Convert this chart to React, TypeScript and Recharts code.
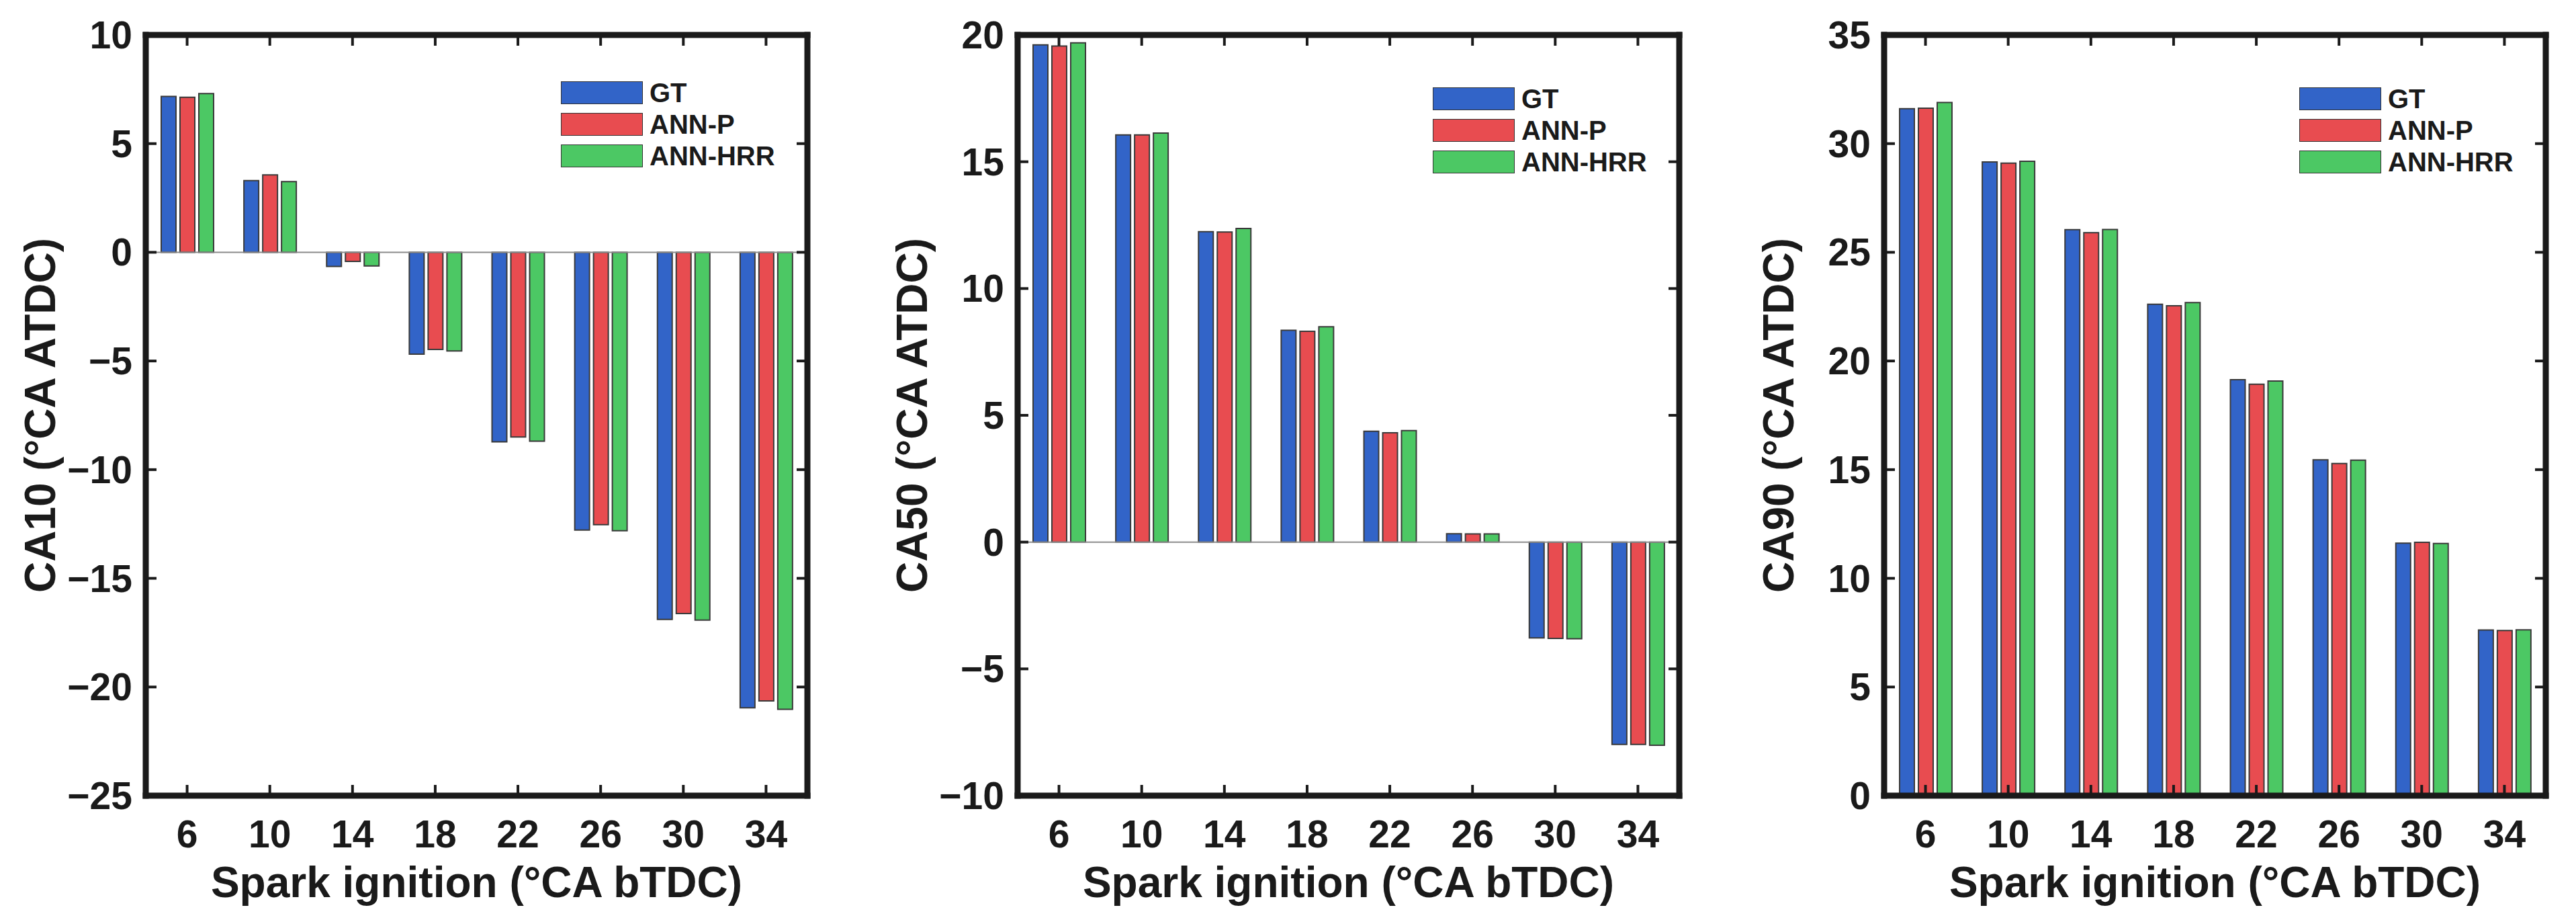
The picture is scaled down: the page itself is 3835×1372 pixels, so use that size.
import React from 'react'
import { BarChart, Bar, XAxis, YAxis, Legend, ReferenceLine } from 'recharts'

// spark ignition timing (°CA bTDC)
const sparkIgnition = ['6', '10', '14', '18', '22', '26', '30', '34']
const seriesNames = ['GT', 'ANN-P', 'ANN-HRR']

const ca10GT = [7.17, 3.3, -0.65, -4.69, -8.72, -12.78, -16.89, -20.96]
const ca10P = [7.13, 3.56, -0.42, -4.47, -8.5, -12.53, -16.62, -20.64]
const ca10HRR = [7.3, 3.25, -0.63, -4.54, -8.69, -12.81, -16.92, -21.03]

const ca50GT = [19.61, 16.06, 12.24, 8.35, 4.37, 0.33, -3.78, -7.98]
const ca50P = [19.56, 16.06, 12.23, 8.31, 4.31, 0.32, -3.8, -7.98]
const ca50HRR = [19.69, 16.13, 12.37, 8.49, 4.4, 0.32, -3.81, -8.01]

const ca90GT = [31.61, 29.16, 26.04, 22.61, 19.14, 15.45, 11.62, 7.62]
const ca90P = [31.63, 29.1, 25.9, 22.54, 18.93, 15.28, 11.66, 7.6]
const ca90HRR = [31.89, 29.19, 26.05, 22.69, 19.08, 15.44, 11.6, 7.63]

const ca10Ticks = [-25, -20, -15, -10, -5, 0, 5, 10]
const ca50Ticks = [-10, -5, 0, 5, 10, 15, 20]
const ca90Ticks = [0, 5, 10, 15, 20, 25, 30, 35]

const FONT = '"Liberation Sans", Arial, Helvetica, sans-serif'
const INK = '#1a1a1a'
const COLORS = ['#3264C8', '#E84C50', '#4CC864']

// layout of one panel
const CW = 1240
const CH = 1372
const PL = 217
const PT = 52
const PW = 985
const PH = 1132
const PR = PL + PW
const PB = PT + PH

const frame = { stroke: INK, strokeWidth: 9, strokeLinecap: 'square' as const }

function XTick({ x, payload }: any) {
  return (
    <g>
      <line x1={x} x2={x} y1={PB} y2={PB - 16} stroke={INK} strokeWidth={4} />
      <line x1={x} x2={x} y1={PT} y2={PT + 16} stroke={INK} strokeWidth={4} />
      <text x={x} y={PB + 77} textAnchor="middle" fontSize={57} fontWeight="bold" fill={INK} fontFamily={FONT}>
        {payload.value}
      </text>
    </g>
  )
}

function YTick({ y, payload }: any) {
  const label = String(payload.value).replace('-', '\u2212')
  return (
    <g>
      <line x1={PL} x2={PL + 16} y1={y} y2={y} stroke={INK} strokeWidth={4} />
      <line x1={PR - 16} x2={PR} y1={y} y2={y} stroke={INK} strokeWidth={4} />
      <text x={PL - 20} y={y + 20} textAnchor="end" fontSize={57} fontWeight="bold" fill={INK} fontFamily={FONT}>
        {label}
      </text>
    </g>
  )
}

function YTitle({ text }: any) {
  const cx = 82
  const cy = PT + PH / 2
  return (
    <text x={cx} y={cy} transform={`rotate(-90 ${cx} ${cy})`} textAnchor="middle" fontSize={64} fontWeight="bold" fill={INK} fontFamily={FONT}>
      {text}
    </text>
  )
}

function XTitle() {
  return (
    <text x={PL + PW / 2} y={1335} textAnchor="middle" fontSize={64} fontWeight="bold" fill={INK} fontFamily={FONT}>
      Spark ignition (°CA bTDC)
    </text>
  )
}

function LegendBox({ payload }: any) {
  const items = [...(payload || [])].sort(
    (a: any, b: any) => seriesNames.indexOf(a.value) - seriesNames.indexOf(b.value)
  )
  return (
    <div style={{ fontFamily: FONT }}>
      {items.map((item: any) => (
        <div key={item.value} style={{ display: 'flex', alignItems: 'center', height: 34, marginBottom: 13 }}>
          <div style={{ width: 120, height: 32, background: item.color, border: '1.5px solid #333' }} />
          <span style={{ marginLeft: 10, fontSize: 40, fontWeight: 'bold', color: INK, lineHeight: '34px' }}>{item.value}</span>
        </div>
      ))}
    </div>
  )
}

function Panel({ left, title, gt, p, hrr, ticks, legendTop }: any) {
  const data = sparkIgnition.map((si, i) => ({ si, gt: gt[i], p: p[i], hrr: hrr[i] }))
  const domain = [ticks[0], ticks[ticks.length - 1]]
  return (
    <div style={{ position: 'absolute', left, top: 0 }}>
      <BarChart
        width={CW}
        height={CH}
        data={data}
        margin={{ top: PT, right: 28, bottom: CH - PB - 30, left: 97 }}
        barSize={22}
        barGap={6}
      >
        <ReferenceLine y={0} stroke="#8c8c8c" strokeWidth={2} />
        <Bar dataKey="gt" name={seriesNames[0]} fill={COLORS[0]} stroke="#3a3a3a" strokeWidth={2} isAnimationActive={false} />
        <Bar dataKey="p" name={seriesNames[1]} fill={COLORS[1]} stroke="#3a3a3a" strokeWidth={2} isAnimationActive={false} />
        <Bar dataKey="hrr" name={seriesNames[2]} fill={COLORS[2]} stroke="#3a3a3a" strokeWidth={2} isAnimationActive={false} />
        <XAxis
          dataKey="si"
          interval={0}
          height={30}
          tickSize={0}
          tickMargin={0}
          tickLine={false}
          axisLine={frame}
          tick={<XTick />}
          label={<XTitle />}
        />
        <YAxis
          type="number"
          domain={domain}
          ticks={ticks}
          interval={0}
          allowDataOverflow
          width={120}
          tickSize={0}
          tickMargin={0}
          tickLine={false}
          axisLine={frame}
          tick={<YTick />}
          label={<YTitle text={title} />}
        />
        <YAxis
          yAxisId="r"
          orientation="right"
          type="number"
          domain={domain}
          allowDataOverflow
          width={10}
          tick={false}
          tickLine={false}
          axisLine={frame}
        />
        <ReferenceLine y={domain[1]} stroke={INK} strokeWidth={9} strokeLinecap="square" />
        <Legend
          layout="vertical"
          align="center"
          verticalAlign="middle"
          wrapperStyle={{ left: 835, top: legendTop, width: 'auto' }}
          content={<LegendBox />}
        />
      </BarChart>
    </div>
  )
}

export default function App() {
  return (
    <div style={{ position: 'absolute', left: 0, top: 0, width: 3835, height: 1372, background: '#fff', overflow: 'hidden' }}>
      <Panel left={0} title="CA10 (°CA ATDC)" gt={ca10GT} p={ca10P} hrr={ca10HRR} ticks={ca10Ticks} legendTop={121} />
      <Panel left={1298} title="CA50 (°CA ATDC)" gt={ca50GT} p={ca50P} hrr={ca50HRR} ticks={ca50Ticks} legendTop={130} />
      <Panel left={2588} title="CA90 (°CA ATDC)" gt={ca90GT} p={ca90P} hrr={ca90HRR} ticks={ca90Ticks} legendTop={130} />
    </div>
  )
}
